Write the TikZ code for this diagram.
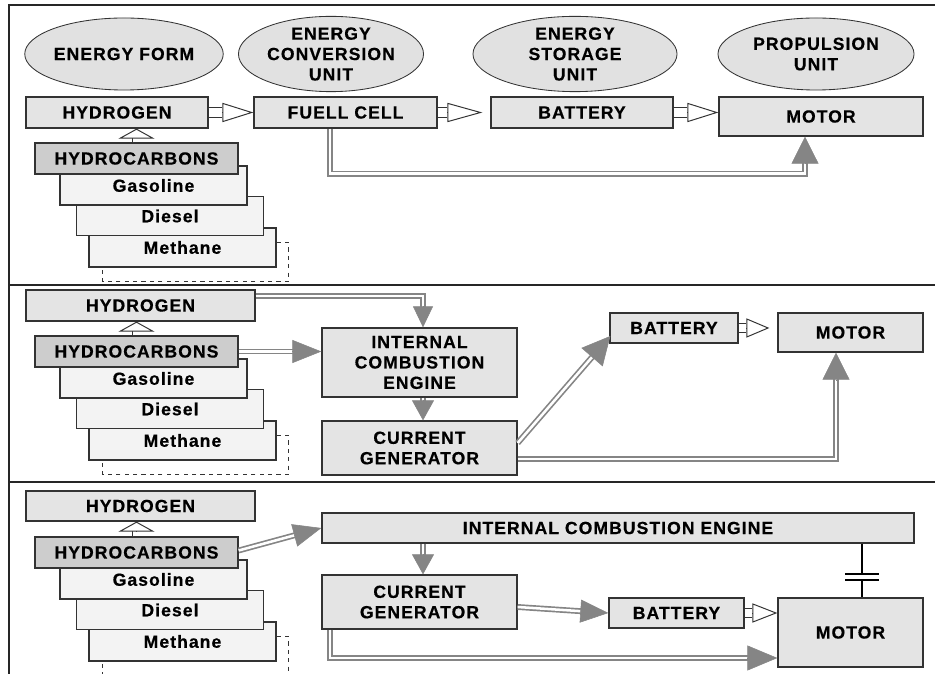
\documentclass[tikz,border=0pt]{standalone}
\usepackage{fontspec}
\setmainfont{Liberation Sans}[LetterSpace=6,BoldFeatures={FakeBold=0.5}]
\usetikzlibrary{positioning,arrows.meta,shapes.geometric,calc}
\definecolor{boxgray}{HTML}{E4E4E4}
\definecolor{hcgray}{HTML}{CDCDCD}
\definecolor{stackgray}{HTML}{F3F3F3}
\definecolor{ellgray}{HTML}{E1E1E1}
\definecolor{linedark}{HTML}{333333}
\definecolor{arrgray}{HTML}{858585}

\begin{document}
\begin{tikzpicture}[
  x=0.025cm, y=-0.025cm,
  every node/.style={font=\bfseries\fontsize{12.5}{14.5}\selectfont, text=black},
  unit/.style={ellipse, draw=linedark, line width=0.6pt, fill=ellgray, inner sep=0pt, minimum height=1.8cm, align=center},
  blk/.style={draw=linedark, line width=0.9pt, fill=boxgray, inner sep=0pt, minimum height=0.775cm, align=center},
  hcbox/.style={blk, fill=hcgray, minimum width=5.075cm},
  fuel/.style={blk, fill=stackgray, minimum width=4.675cm, minimum height=0.97cm},
  hshaft/.style={draw=linedark, double=white, line width=0.7pt, double distance=0.22cm},
  hhead/.style={-{Triangle[length=#1,width=0.48cm,fill=white]}, draw=linedark, line width=0.7pt},
  hhead/.default=0.775cm,
  vhead/.style={-{Triangle[length=0.25cm,width=0.9cm,fill=white]}, draw=linedark, line width=0.7pt},
  dline/.style={draw=arrgray, double=white, line width=1.2pt, double distance=1.8pt, shorten >=0.3cm},
  ghead/.style={-{Triangle[#1]}, draw=arrgray, line width=0.4pt},
  ghead/.default={length=0.65cm,width=0.6cm},
  frame/.style={draw=black!85, line width=0.9pt}
]
\useasboundingbox (0,0) rectangle (935,674);

% frame and section dividers
\draw[frame] (935,5) -- (9,5) -- (9,674);
\draw[frame] (9,285) -- (935,285);
\draw[frame] (9,482) -- (935,482);

% headings
\node[unit, minimum width=4.45cm] (form) at (124,54) {ENERGY FORM};
\node[unit, minimum width=4.625cm] (conv) at (331,54) {ENERGY\\CONVERSION\\UNIT};
\node[unit, minimum width=5.1cm] (stor) at (575,54) {ENERGY\\STORAGE\\UNIT};
\node[unit, minimum width=4.9cm] (prop) at (816,54) {PROPULSION\\UNIT};

% fuel cell vehicle
\node[blk, minimum width=4.55cm] (h1) at (117,112.5) {HYDROGEN};
\node[blk, minimum width=4.575cm] (fc) at (345.5,112.5) {FUELL CELL};
\node[blk, minimum width=4.55cm] (b1) at (582,112.5) {BATTERY};
\node[blk, minimum width=5.1cm, minimum height=0.975cm] (m1) at (821,116.5) {MOTOR};

% series hybrid
\node[blk, minimum width=5.725cm] (h2) at (140.5,305.5) {HYDROGEN};
\node[blk, minimum width=4.875cm, minimum height=1.725cm] (ice2) at (419.5,362.5) {INTERNAL\\COMBUSTION\\ENGINE};
\node[blk, minimum width=4.875cm, minimum height=1.35cm] (cg2) at (419.5,448) {CURRENT\\GENERATOR};
\node[blk, minimum width=3.2cm, minimum height=0.75cm] (b2) at (674,328) {BATTERY};
\node[blk, minimum width=3.625cm, minimum height=0.975cm] (m2) at (850.5,332.5) {MOTOR};

% parallel hybrid
\node[blk, minimum width=5.725cm, minimum height=0.75cm] (h3) at (140.5,506) {HYDROGEN};
\node[blk, minimum width=14.8cm, minimum height=0.75cm] (ice3) at (618,528) {INTERNAL COMBUSTION ENGINE};
\node[blk, minimum width=4.875cm, minimum height=1.35cm] (cg3) at (419.5,602) {CURRENT\\GENERATOR};
\node[blk, minimum width=3.375cm, minimum height=0.75cm] (b3) at (676.5,613) {BATTERY};
\node[blk, minimum width=3.625cm, minimum height=1.725cm] (m3) at (850.5,632.5) {MOTOR};

% fuel stacks
\foreach \s/\dy in {1/0,2/193,3/394}{
  \node[fuel] (mth\s) at (182.5,247.5+\dy) {Methane};
  \draw[linedark, dashed, thin] ($(mth\s.north east)+(0,15)$) -- ++(12,0) -- ++(0,39) -- ++(-186,0) -- ++(0,-15);
  \node[fuel] (dsl\s) at (170,216+\dy) {Diesel};
  \node[fuel] (gas\s) at (153.5,185.5+\dy) {Gasoline};
  \node[hcbox] (hc\s) at (136.5,158.5+\dy) {HYDROCARBONS};
  \draw[hshaft, double distance=0.2cm] (hc\s.north) -- ++(0,-5);
  \draw[vhead] ($(hc\s.north)+(0,-5)$) -- (hc\s.north |- h\s.south);
}

% hollow arrows
\draw[hshaft] (h1.east) -- ($(fc.west)+(-31,0)$);
\draw[hhead] ($(fc.west)+(-31,0)$) -- (fc.west);
\draw[hshaft] (fc.east) -- ($(b1.west)+(-43,0)$);
\draw[hhead=0.875cm] ($(b1.west)+(-43,0)$) -- ($(b1.west)+(-8,0)$);
\draw[hshaft] (b1.east) -- ($(m1.west)+(-31,-4)$);
\draw[hhead] ($(m1.west)+(-31,-4)$) -- ($(m1.west)+(0,-4)$);
\draw[hshaft] (b2.east) -- ($(m2.west)+(-31,-4.5)$);
\draw[hhead=0.575cm] ($(m2.west)+(-31,-4.5)$) -- ($(m2.west)+(-8,-4.5)$);
\draw[hshaft] (b3.east) -- ($(b3.east -| m3.west)+(-25,0)$);
\draw[hhead=0.625cm] ($(b3.east -| m3.west)+(-25,0)$) -- (b3.east -| m3.west);

% energy flow, fuel cell
\draw[dline] ($(fc.south)+(-15.5,0)$) |- ($(m1.south)+(-16,37)$) -- ($(m1.south)+(-16,0)$);
\draw[ghead={length=0.675cm,width=0.675cm}] ($(m1.south)+(-16,27)$) -- ($(m1.south)+(-16,0)$);

% energy flow, series
\draw[dline] ($(h2.east)+(0,-9.5)$) -| ($(ice2.north)+(3.5,0)$);
\draw[ghead={length=0.525cm,width=0.5cm}] ($(ice2.north)+(3.5,-21)$) -- ($(ice2.north)+(3.5,0)$);
\draw[dline] (hc2.east) -- (hc2.east -| ice2.west);
\draw[ghead={length=0.725cm,width=0.575cm}] ($(hc2.east -| ice2.west)+(-29,0)$) -- (hc2.east -| ice2.west);
\coordinate (g2) at ($(cg2.north)+(3.5,0)$);
\draw[dline] (g2 |- ice2.south) -- (g2);
\draw[ghead={length=0.5cm,width=0.55cm}] ($(g2)+(0,-20)$) -- (g2);
\coordinate (s24) at ($(cg2.east)+(0,-5)$);
\coordinate (t24) at ($(b2.west)+(1,8)$);
\draw[dline] (s24) -- (t24);
\draw[ghead={length=0.7cm,width=0.7cm}] ($(t24)!0.7cm!(s24)$) -- (t24);
\draw[dline] ($(cg2.east)+(0,11)$) -| ($(m2.south)+(-14.5,0)$);
\draw[ghead={length=0.675cm,width=0.675cm}] ($(m2.south)+(-14.5,27)$) -- ($(m2.south)+(-14.5,0)$);

% energy flow, parallel
\coordinate (s31) at ($(hc3.east)+(0,-2)$);
\draw[dline] (s31) -- (ice3.west);
\draw[ghead={length=0.7cm,width=0.575cm}] ($(ice3.west)!0.7cm!(s31)$) -- (ice3.west);
\coordinate (g3) at ($(cg3.north)+(3.5,0)$);
\draw[dline] (g3 |- ice3.south) -- (g3);
\draw[ghead={length=0.5cm,width=0.55cm}] ($(g3)+(0,-20)$) -- (g3);
\coordinate (s33) at ($(cg3.east)+(0,5)$);
\draw[dline] (s33) -- (b3.west);
\draw[ghead={length=0.7cm,width=0.575cm}] ($(b3.west)!0.7cm!(s33)$) -- (b3.west);
\draw[dline] ($(cg3.south)+(-89.5,0)$) |- ($(m3.west)+(0,25.5)$);
\draw[ghead={length=0.75cm,width=0.625cm}] ($(m3.west)+(-30,25.5)$) -- ($(m3.west)+(0,25.5)$);

% clutch
\coordinate (cl) at ($(m3.north)+(11.5,0)$);
\draw[black, line width=1.3pt] (cl |- ice3.south) -- ($(cl)+(0,-23)$);
\draw[black, line width=1.3pt] ($(cl)+(0,-17)$) -- (cl);
\draw[black, line width=1.4pt] ($(cl)+(-17,-23)$) -- ($(cl)+(17,-23)$);
\draw[black, line width=1.4pt] ($(cl)+(-17,-17)$) -- ($(cl)+(17,-17)$);
\end{tikzpicture}
\end{document}
